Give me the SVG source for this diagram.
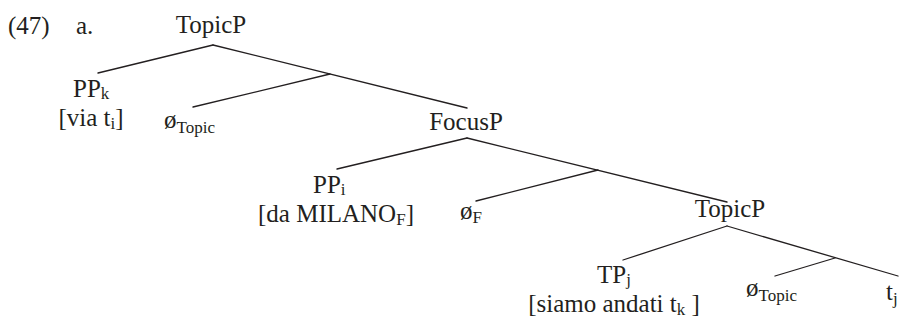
<svg xmlns="http://www.w3.org/2000/svg" width="907" height="320" viewBox="0 0 907 320">
<style>
text{font-family:"Liberation Serif","Times New Roman",serif;font-size:25px;fill:#231f20}
.s{font-size:17px}
.m{text-anchor:middle}
line{stroke:#231f20;stroke-width:1.3;stroke-linecap:round}
</style>
<rect width="907" height="320" fill="#fff"/>
<g id="label">
<text x="8" y="34">(47)</text>
<text x="76" y="34">a.</text>
</g>
<g id="connectors">
<line x1="213" y1="45" x2="98" y2="73"/>
<line x1="213" y1="45" x2="467" y2="108"/>
<line x1="330" y1="74" x2="193" y2="107"/>
<line x1="467" y1="138" x2="337" y2="169"/>
<line x1="467" y1="138" x2="727" y2="202"/>
<line x1="598" y1="170" x2="476" y2="201"/>
<line x1="727" y1="226" x2="623" y2="260"/>
<line x1="727" y1="226" x2="898" y2="276"/>
<line x1="835" y1="258" x2="775" y2="276"/>
</g>
<g id="topicP1"><text class="m" x="211" y="33">TopicP</text></g>
<g id="ppk">
<text x="73" y="97">PP<tspan class="s" dy="2">k</tspan></text>
<text class="m" x="91" y="126">[via t<tspan class="s" dy="3">i</tspan><tspan dy="-3">]</tspan></text>
</g>
<g id="emptyTopic1"><text x="164" y="128">ø<tspan class="s" dy="5">Topic</tspan></text></g>
<g id="focusP"><text class="m" x="466" y="130">FocusP</text></g>
<g id="ppi">
<text x="313" y="193">PP<tspan class="s" dy="2">i</tspan></text>
<text class="m" x="336" y="222">[da MILANO<tspan class="s" dy="3">F</tspan><tspan dy="-3">]</tspan></text>
</g>
<g id="emptyF"><text x="460" y="219">ø<tspan class="s" dy="4">F</tspan></text></g>
<g id="topicP2"><text class="m" x="730" y="217">TopicP</text></g>
<g id="tpj">
<text x="597" y="283">TP<tspan class="s" dy="2">j</tspan></text>
<text class="m" x="614" y="312">[siamo andati t<tspan class="s" dy="3">k</tspan><tspan dy="-3"> ]</tspan></text>
</g>
<g id="emptyTopic2"><text x="746" y="296">ø<tspan class="s" dy="5">Topic</tspan></text></g>
<g id="tj"><text x="886" y="300">t<tspan class="s" dy="4">j</tspan></text></g>
</svg>
